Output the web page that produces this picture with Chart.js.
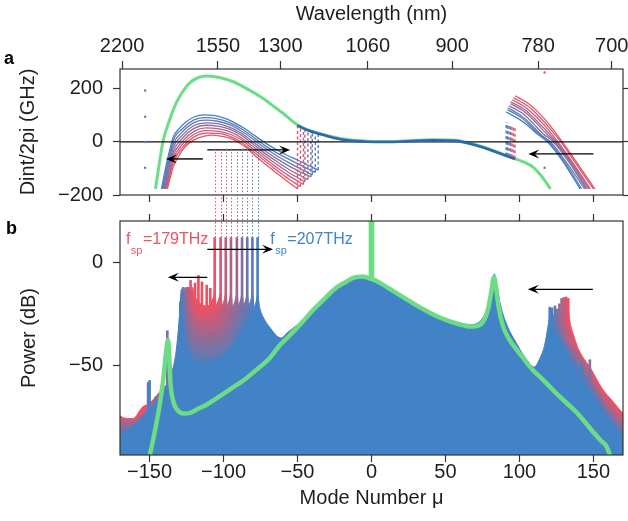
<!DOCTYPE html>
<html lang="en">
<head>
<meta charset="UTF-8">
<title>Dispersion and comb spectra</title>
<script src="https://cdn.jsdelivr.net/npm/chart.js@4.4.1/dist/chart.umd.min.js"></script>
<style>
  body { margin: 0; background: #fff; }
  .wrap { position: relative; width: 628px; height: 521px; }
  .wrap canvas { position: absolute; left: 0; top: 0; }
</style>
</head>
<body>
<div class="wrap">
  <canvas id="dintChart" width="628" height="230"></canvas>
  <canvas id="powerChart" width="628" height="521"></canvas>
</div>
<script>
// ---------- axes ----------
const MU_MIN = -170, MU_MAX = 170;
const wavelengthTicks = [2200, 1550, 1300, 1060, 900, 780, 700];   // nm, top axis
const PUMP_THZ = 285.0;     // optical frequency of mode 0
const FSR_THZ = 0.8823;     // mode spacing

// ---------- panel a : Dint/2pi (GHz) vs mode number ----------
const dintGreen = [[-146,-177],[-141,0],[-136,90],[-132,147],[-127,195],[-123,222],[-117,243],[-111,249],[-102,242],[-93,226],[-84,200],[-75,170],[-67,138],[-60,109],[-50,64],[-43,45],[-35,32],[-26,19],[-15,8],[-3,3],[10,2],[19,3],[30,6],[42,8],[57,6],[66,-4],[75,-18],[85,-38],[96,-61],[103,-76],[109,-94],[115,-130],[121,-177]];
const dintMid = [[-50,62],[-43,44],[-35,30],[-26,16],[-15,5],[-3,1],[10,0],[19,1],[30,4],[42,6],[57,4],[66,-6],[75,-20],[85,-40],[91,-52],[97,-64]];
const dintLeft = [
  [[-138,-177],[-136,-133],[-134,-93],[-130,-50],[-126,-18],[-120,8],[-113,22],[-107,26],[-100,20],[-93,8],[-85,-20],[-78,-55],[-70,-92],[-64,-118],[-57,-148],[-50,-177]],
  [[-138.5,-177],[-134,-79],[-128,-22],[-120,19],[-112,33],[-104,32],[-96,22],[-88,-1],[-80,-36],[-72,-72],[-64,-107],[-56,-140],[-48,-168]],
  [[-139,-177],[-134,-65],[-128,-10],[-120,29],[-112,43],[-104,41],[-96,30],[-88,8],[-80,-27],[-72,-62],[-64,-96],[-56,-127],[-46,-160]],
  [[-139.5,-177],[-134,-51],[-128,1],[-120,40],[-112,53],[-104,50],[-96,39],[-88,16],[-80,-18],[-72,-53],[-64,-85],[-56,-115],[-45,-150]],
  [[-140,-177],[-134,-37],[-128,13],[-120,51],[-112,63],[-104,60],[-96,48],[-88,25],[-80,-9],[-72,-43],[-64,-74],[-56,-103],[-43,-142]],
  [[-140.5,-177],[-134,-23],[-128,25],[-120,62],[-112,72],[-104,69],[-96,56],[-88,33],[-80,0],[-72,-33],[-64,-63],[-56,-90],[-41,-132]],
  [[-141,-177],[-134,-9],[-128,37],[-120,73],[-112,82],[-104,78],[-96,65],[-88,41],[-80,10],[-72,-23],[-64,-52],[-56,-78],[-40,-124]],
  [[-141.5,-177],[-134,5],[-128,49],[-120,83],[-112,92],[-104,87],[-96,73],[-88,50],[-80,19],[-72,-14],[-64,-41],[-56,-65],[-38,-115]],
  [[-142,-177],[-140,-120],[-138,-68],[-136,-22],[-134,19],[-130,50],[-126,72],[-120,94],[-113,102],[-107,100],[-100,91],[-93,74],[-85,48],[-78,20],[-70,-10],[-64,-30],[-57,-50],[-50,-68],[-43,-87],[-36,-106]]
];
const dintRight = [
  [[97,174],[106,145],[114,105],[121,60],[129,0],[139,-80],[151,-177]],
  [[96,166],[105,138],[113,98],[120,55],[128,0],[138,-80],[150,-177]],
  [[95,159],[104,131],[112,91],[119,49],[126,0],[136,-78],[148,-177]],
  [[94,151],[103,124],[111,84],[118,43],[125,0],[135,-75],[147,-177]],
  [[94,144],[103,116],[110,80],[117,38],[124,0],[134,-73],[146,-177]],
  [[93,136],[102,108],[109,72],[116,31],[123,0],[133,-72],[145,-177]],
  [[92,129],[101,100],[108,66],[115,25],[121,0],[131,-71],[144,-177]],
  [[92,121],[101,93],[107,63],[113,30],[120,0],[130,-71],[142,-177]],
  [[91,113],[100,85],[106,60],[111,35],[119,0],[129,-70],[141,-177]]
];
// jumps between branches: [mode, from GHz, to GHz]
const dashLeft = [[-50,-177,64],[-48,-168,58],[-46,-160,53],[-45,-150,50],[-43,-142,46],[-41,-132,42],[-40,-124,40],[-38,-115,37],[-36,-106,34]];
const dashRight = [[97,-63,57],[96,-61,60],[95,-59,62],[94,-57,64],[94,-57,66],[93,-55,68],[92,-53,70],[92,-53,72],[91,-51,75]];
const strayDots = [[-153,194,4],[-153,95,8],[-153,0,8],[-153,-97,8],[117,298,0],[117,262,0],[117,-97,8]];

// ---------- panel b : power (dB) vs mode number ----------
const powerBlue = [[-170,-84],[-165,-82],[-160,-79],[-155,-75],[-150,-72],[-145,-67],[-140,-62],[-135,-58],[-133,-52],[-131.5,-44],[-130.3,-32],[-129.2,-22],[-128,-28],[-126,-41],[-112,-49],[-100,-45],[-90,-36],[-84,-29],[-80,-23],[-78,-19],[-77,-16],[-75.5,-22],[-72,-28],[-68,-32],[-64,-35.5],[-61,-36.5],[-57,-34],[-50,-30],[-40,-23],[-30,-16],[-20,-10.5],[-12,-8],[-6,-7.5],[0,-8.5],[6,-10.5],[15,-14.5],[28,-20],[40,-24.5],[51,-28],[60,-29.5],[67,-30],[75,-27],[79,-20],[82,-8],[83,-5.5],[84.5,-10],[87,-20],[92,-31],[98,-39],[104,-46],[110,-50.5],[114,-46],[117,-40],[119.5,-30],[120.5,-26],[122,-30],[125,-33],[130,-40],[135,-47],[140,-55],[148,-63],[156,-71],[163,-78],[170,-84]];
const powerLeft = [
  [[-170,-74],[-165,-76],[-160,-75],[-155,-70],[-150,-68],[-140,-60],[-131,-55],[-125,-45],[-122.5,-28],[-121,-12],[-119.5,-16],[-117,-19],[-112,-21],[-109,-20],[-107,-17],[-106,-15],[-104.5,-26],[-102,-42],[-96,-62],[-86,-85]],
  [[-170,-75],[-160,-75.5],[-150,-68.5],[-140,-60.5],[-132.5,-55],[-126.5,-45],[-124,-28],[-122.5,-12],[-121,-18],[-118.5,-22],[-112,-24.5],[-108,-23.5],[-105,-21],[-103,-17],[-102,-15],[-100.5,-26],[-98,-42],[-92,-62],[-82,-85]],
  [[-170,-76.5],[-160,-76],[-150,-69],[-140,-61],[-134,-55],[-128,-45],[-125.5,-28],[-124,-12],[-122.5,-19],[-120,-25],[-112,-28],[-105,-26],[-101.5,-22],[-99.5,-18],[-98.5,-15],[-97,-26],[-94.5,-42],[-88.5,-62],[-78.5,-85]],
  [[-170,-77.5],[-160,-76.5],[-150,-69.5],[-140,-61],[-135,-55],[-129,-45],[-126.5,-28],[-125,-12],[-123.5,-20],[-121,-27],[-112,-31.5],[-103,-29],[-98,-22],[-96,-18],[-95,-15],[-93.5,-26],[-91,-42],[-85,-62],[-75,-85]],
  [[-170,-78.5],[-160,-77],[-150,-70],[-140,-61.5],[-136,-56],[-130,-45],[-127.5,-28],[-126,-12],[-124.5,-21],[-122,-30],[-112,-35],[-101,-32],[-94,-22],[-92,-18],[-91,-15],[-89.5,-26],[-87,-42],[-81,-62],[-71,-85]],
  [[-170,-80],[-160,-77.5],[-150,-70.5],[-140,-61.5],[-137,-57],[-131,-45],[-128.5,-28],[-127,-12],[-125.5,-22],[-123,-33],[-112,-38.5],[-99,-35],[-90.5,-22],[-88.5,-18],[-87.5,-15],[-86,-26],[-83.5,-42],[-77.5,-62],[-67.5,-85]],
  [[-170,-81],[-160,-78],[-150,-71],[-140,-62],[-137.8,-58],[-131.8,-45],[-129.3,-28],[-127.8,-12],[-126.3,-23],[-124,-36],[-112,-42],[-97,-38],[-87,-22],[-85,-18],[-84,-15],[-82.5,-26],[-80,-42],[-74,-62],[-64,-85]],
  [[-170,-82.5],[-160,-78.5],[-150,-71.5],[-140,-62],[-138.5,-59],[-132.5,-45],[-130,-28],[-128.5,-13],[-127,-25],[-125,-39],[-112,-45.5],[-96,-41],[-83.5,-22],[-81.5,-18],[-80.5,-15],[-79,-26],[-76.5,-42],[-70.5,-62],[-60.5,-85]]
];
const powerRight = [
  [[108,-62],[122,-52],[126,-40],[128.5,-32],[132,-27],[133,-24],[134.5,-30],[137,-36],[140,-42],[148,-51],[156,-61],[163,-67],[170,-73]],
  [[108,-62],[121,-52],[125,-40],[127.5,-32],[130.5,-27],[131.5,-24],[133,-30],[135.5,-36],[140,-43],[148,-52],[156,-62.5],[163,-68.5],[170,-74.5]],
  [[108,-62],[120,-52],[124,-40],[126.5,-32],[129,-27],[130,-24],[131.5,-30],[134,-36],[140,-44],[148,-53.5],[156,-64],[163,-70],[170,-76]],
  [[108,-62],[119,-52],[123,-40],[125.5,-32],[127.5,-27],[128.5,-24],[130,-30],[132.5,-36],[140,-45],[148,-55],[156,-65],[163,-71.5],[170,-77.5]],
  [[108,-62],[118,-52],[122,-40],[124.5,-32],[126,-27],[127,-24],[128.5,-30],[131,-36],[140,-46.5],[148,-56.5],[156,-66.5],[163,-73],[170,-79]],
  [[108,-62],[117,-52],[121,-40],[123.5,-32],[124.5,-27],[125.5,-24],[127,-30],[129.5,-36],[140,-48],[148,-58],[156,-68],[163,-74.5],[170,-80.5]],
  [[108,-62],[115.5,-52],[119.5,-40],[122,-32],[123,-27],[124,-24],[125.5,-30],[128,-36],[140,-50],[148,-59.5],[156,-69],[163,-76],[170,-82]],
  [[108,-62],[114.5,-52],[118.5,-40],[120.5,-32],[121.2,-27],[122,-24],[123.5,-30],[126,-36],[140,-52],[148,-61],[156,-70],[163,-77],[170,-83]]
];
// single comb lines: strongest line of each spectrum, lines of the right cluster, others [mode, dB, spectrum]
const tallSpikeMu = [-106, -102, -98.5, -95, -91, -87.5, -84, -80.5, -77];
const tallSpikeTop = [12, 12, 12, 12, 12, 12, 12, 12, 12];
const rightSpikeMu = [133, 131.5, 130, 128.5, 127, 125.5, 124, 122, 120.5];
const rightSpikeTop = [-17.4, -16.7, -17, -17.4, -20, -22.5, -21, -22, -21.6];
const sideSpikes = [[-119.3,-10,0],[-117,-6.3,0],[-114.6,-9.4,0],[-111.4,-11,0],[-109,-12.5,0],[-122.3,-8.7,1],[-124,-12,2],
                    [-125,-12.5,3],[-126,-14,4],[-126.8,-16,5],[-127.8,-14,6],[-128.5,-17,7],[-129.2,-19,8],
                    [-150,-57,8],[-151,-58,6],[-146,-65,7],[-138,-33,5],[142,-48.6,8],[147.6,-47,5]];
const powerGreen = [[-151,-97],[-146,-80],[-143,-68],[-141,-58],[-139.6,-48.6],[-138.3,-40],[-137.5,-37.5],[-136.7,-45],[-136,-57],[-134,-67],[-131,-71.5],[-127,-73],[-122,-72.5],[-118,-71],[-111,-68.5],[-104.5,-65.5],[-95,-61],[-86.6,-57],[-78,-52],[-68.6,-46],[-62,-40],[-55,-35],[-47,-29],[-39.5,-23],[-31,-17],[-23.5,-12],[-17,-9.3],[-12.5,-7.5],[-6,-6.8],[0,-8],[6,-10],[15,-14],[28,-19.7],[40,-24.5],[51,-28],[60,-30],[66.5,-31],[72,-30.5],[76,-28],[79,-22],[81,-14],[82.8,-7],[84.5,-14],[86,-22],[89,-31],[93,-37],[98,-42],[104,-47.5],[109,-52],[115,-56],[120.5,-60],[126,-64],[132,-68],[138,-72],[143,-76],[150,-82],[155,-86],[159,-89],[163,-97]];
const pumpLine = { mu: 0, from: -8.5, to: 30 };
const FLOOR_DB = -100;

// ---------- helpers ----------
const FONT = "'Liberation Sans', Arial, sans-serif";
const GREEN = '#6ddc86';
const AXIS = '#333';
Chart.defaults.font.family = FONT;
Chart.defaults.color = '#1e1e1e';

const toXY = arr => arr.map(([x, y]) => ({ x, y }));
const combColor = k => {
  const t = k / 8;
  return `rgb(${Math.round(236 - 170 * t)},${Math.round(82 + 48 * t)},${Math.round(98 + 100 * t)})`;
};
const muFromWavelength = nm => (299792.458 / nm - PUMP_THZ) / FSR_THZ;
const minus = v => String(v).replace('-', '\u2212');
const forceW = w => s => { s.width = w; };
const forceH = h => s => { s.height = h; s.paddingLeft = 0; s.paddingRight = 0; };
const tickGrid = len => ({ drawOnChartArea: false, tickLength: len, color: AXIS, tickWidth: 1.2, offset: false });

function drawArrow(ctx, x1, y1, x2, y2) {
  const head = 11, half = 4.5;
  const a = Math.atan2(y2 - y1, x2 - x1), cs = Math.cos(a), sn = Math.sin(a);
  ctx.beginPath();
  ctx.moveTo(x1, y1);
  ctx.lineTo(x2 - cs * head * 0.6, y2 - sn * head * 0.6);
  ctx.stroke();
  ctx.beginPath();
  ctx.moveTo(x2, y2);
  ctx.lineTo(x2 - head * cs + half * sn, y2 - head * sn - half * cs);
  ctx.lineTo(x2 - head * 0.6 * cs, y2 - head * 0.6 * sn);
  ctx.lineTo(x2 - head * cs - half * sn, y2 - head * sn + half * cs);
  ctx.closePath();
  ctx.fill();
}

function frame(ctx, a) {
  ctx.strokeStyle = AXIS;
  ctx.lineWidth = 1.2;
  ctx.strokeRect(a.left, a.top, a.right - a.left, a.bottom - a.top);
}

// ---------- panel a ----------
const dsA = [];
dsA.push({ data: toXY(dintGreen), borderColor: GREEN, borderWidth: 3, cubicInterpolationMode: 'monotone' });
dintLeft.forEach((c, k) => dsA.push({ data: toXY(c), borderColor: combColor(k), borderWidth: 1.3, cubicInterpolationMode: 'monotone' }));
dintRight.forEach((c, k) => dsA.push({ data: toXY(c), borderColor: combColor(k), borderWidth: 1.3, cubicInterpolationMode: 'monotone' }));
dashLeft.concat(dashRight).forEach(([m, a, b], i) => dsA.push({
  data: toXY([[m, a], [m, b]]), borderColor: combColor(i % 9), borderWidth: 1.4, borderDash: [3, 2.5]
}));
dsA.push({ data: toXY([[MU_MIN, 0], [MU_MAX, 0]]), borderColor: '#111', borderWidth: 1.3 });
dsA.push({ data: toXY(dintMid), borderColor: '#2f67ad', borderWidth: 2.6, cubicInterpolationMode: 'monotone' });
dsA.push({ data: toXY(strayDots.map(d => [d[0], d[1]])), showLine: false, clip: false,
  pointRadius: 1.2, pointBorderWidth: 0, pointBackgroundColor: strayDots.map(d => combColor(d[2])) });
dsA.forEach((d, i) => { d.order = dsA.length - i; });

const arrowsA = [[-114, -64, -139, -64], [-111, -30, -55, -30], [150, -45, 106, -45]];
const panelA = {
  id: 'panelA',
  afterDatasetsDraw(chart) {
    const { ctx, chartArea, scales: { x, y } } = chart;
    ctx.save();
    frame(ctx, chartArea);
    ctx.fillStyle = '#000';
    ctx.strokeStyle = '#000';
    ctx.lineWidth = 1.4;
    arrowsA.forEach(([m1, v1, m2, v2]) => drawArrow(ctx, x.getPixelForValue(m1), y.getPixelForValue(v1), x.getPixelForValue(m2), y.getPixelForValue(v2)));
    ctx.font = `bold 18px ${FONT}`;
    ctx.fillText('a', 4, 64);
    ctx.restore();
  }
};

const chartA = new Chart(document.getElementById('dintChart'), {
  type: 'line',
  data: { datasets: dsA },
  options: {
    responsive: false, animation: false, events: [],
    layout: { padding: 0 },
    elements: { point: { radius: 0 } },
    plugins: { legend: { display: false }, tooltip: { enabled: false } },
    scales: {
      x: { type: 'linear', position: 'bottom', min: MU_MIN, max: MU_MAX, offset: false,
        ticks: { display: false, stepSize: 50, includeBounds: false },
        grid: tickGrid(7), border: { display: false }, afterFit: forceH(35) },
      x2: { type: 'linear', axis: 'x', position: 'top', min: MU_MIN, max: MU_MAX, offset: false,
        afterBuildTicks: s => { s.ticks = wavelengthTicks.map(nm => ({ value: muFromWavelength(nm) })); },
        ticks: { callback: (v, i) => String(wavelengthTicks[i]), autoSkip: false, maxRotation: 0,
          font: { size: 20, lineHeight: 1 }, padding: 5 },
        grid: tickGrid(8), border: { display: false },
        title: { display: true, text: 'Wavelength (nm)', font: { size: 20 }, padding: { top: 2, bottom: 0 } },
        afterFit: forceH(69) },
      y: { type: 'linear', position: 'left', min: -200, max: 275,
        ticks: { stepSize: 200, includeBounds: false, callback: minus, font: { size: 20 }, padding: 10 },
        grid: tickGrid(7), border: { display: false },
        title: { display: true, text: 'Dint/2pi (GHz)', font: { size: 20 }, padding: { top: 16, bottom: 0 } },
        afterFit: forceW(120) },
      y2: { type: 'linear', axis: 'y', position: 'right', min: -200, max: 275,
        ticks: { display: false, stepSize: 200, includeBounds: false },
        grid: tickGrid(5), border: { display: false }, afterFit: forceW(5) }
    }
  },
  plugins: [panelA]
});

// ---------- panel b ----------
const fillSet = (pts, col) => ({ data: toXY(pts), borderColor: col, backgroundColor: col, borderWidth: 1,
  fill: 'start', cubicInterpolationMode: 'monotone' });
const spikeSet = (list, col) => ({ type: 'bar', data: list.map(([m, top]) => ({ x: m, y: [FLOOR_DB, top] })),
  backgroundColor: col, barThickness: 2, grouped: false });
const spikesOf = k => [[tallSpikeMu[k], tallSpikeTop[k]], [rightSpikeMu[k], rightSpikeTop[k]]]
  .concat(sideSpikes.filter(s => s[2] === k).map(s => [s[0], s[1]]));

const dsB = [];
for (let k = 0; k < 8; k++) {
  dsB.push(fillSet(powerLeft[k], combColor(k)));
  dsB.push(fillSet(powerRight[k], combColor(k)));
  dsB.push(spikeSet(spikesOf(k), combColor(k)));
}
dsB.push(fillSet(powerBlue, combColor(8)));
dsB.push(spikeSet(spikesOf(8), combColor(8)));
dsB.push({ data: toXY(powerGreen), borderColor: GREEN, borderWidth: 4.5, cubicInterpolationMode: 'monotone' });
dsB.push({ type: 'bar', data: [{ x: pumpLine.mu, y: [pumpLine.from, pumpLine.to] }], backgroundColor: GREEN, barThickness: 5, grouped: false });
dsB.forEach((d, i) => { d.order = dsB.length - i; });

const arrowsB = [[-111, 6.3, -66.6, 6.3], [-111, -7.2, -137.6, -7.2], [149.6, -13, 105.7, -13]];
const spLabels = [{ mu: -166, db: 9, rest: '=179THz', k: 0 }, { mu: -68.4, db: 9, rest: '=207THz', k: 8 }];

const panelB = {
  id: 'panelB',
  afterDatasetsDraw(chart) {
    const { ctx, chartArea, scales: { x, y } } = chart;
    ctx.save();
    frame(ctx, chartArea);
    // comb lines carried up into panel a
    const yTop = chartA.scales.y.getPixelForValue(-25);
    ctx.lineWidth = 1;
    ctx.setLineDash([1.5, 2]);
    tallSpikeMu.forEach((m, k) => {
      const px = Math.round(x.getPixelForValue(m)) + 0.5;
      ctx.strokeStyle = combColor(k);
      ctx.beginPath();
      ctx.moveTo(px, yTop);
      ctx.lineTo(px, y.getPixelForValue(tallSpikeTop[k]));
      ctx.stroke();
    });
    ctx.setLineDash([]);
    ctx.fillStyle = '#000';
    ctx.strokeStyle = '#000';
    ctx.lineWidth = 1.4;
    arrowsB.forEach(([m1, v1, m2, v2]) => drawArrow(ctx, x.getPixelForValue(m1), y.getPixelForValue(v1), x.getPixelForValue(m2), y.getPixelForValue(v2)));
    spLabels.forEach(l => {
      let px = x.getPixelForValue(l.mu);
      const py = y.getPixelForValue(l.db);
      ctx.fillStyle = combColor(l.k);
      ctx.font = `16px ${FONT}`;
      ctx.fillText('f', px, py);
      px += ctx.measureText('f').width + 0.5;
      ctx.font = `11px ${FONT}`;
      ctx.fillText('sp', px, py + 10);
      px += ctx.measureText('sp').width + 0.5;
      ctx.font = `16px ${FONT}`;
      ctx.fillText(l.rest, px, py);
    });
    ctx.fillStyle = '#000';
    ctx.font = `bold 18px ${FONT}`;
    ctx.fillText('b', 6, 234);
    ctx.restore();
  }
};

new Chart(document.getElementById('powerChart'), {
  type: 'line',
  data: { datasets: dsB },
  options: {
    responsive: false, animation: false, events: [],
    layout: { padding: { left: 0, right: 5, top: 0, bottom: 0 } },
    elements: { point: { radius: 0 } },
    plugins: { legend: { display: false }, tooltip: { enabled: false } },
    scales: {
      x: { type: 'linear', position: 'bottom', min: MU_MIN, max: MU_MAX, offset: false,
        ticks: { stepSize: 50, includeBounds: false, callback: minus, autoSkip: false, maxRotation: 0,
          font: { size: 20, lineHeight: 1 }, padding: 0 },
        grid: tickGrid(7), border: { display: false },
        title: { display: true, text: 'Mode Number \u03bc', font: { size: 20 }, padding: { top: 0, bottom: 11 } },
        afterFit: forceH(66) },
      x2: { type: 'linear', axis: 'x', position: 'top', min: MU_MIN, max: MU_MAX, offset: false,
        ticks: { display: false, stepSize: 50, includeBounds: false },
        grid: tickGrid(7), border: { display: false }, afterFit: forceH(221) },
      y: { type: 'linear', position: 'left', min: -93, max: 20, beginAtZero: false,
        ticks: { stepSize: 50, includeBounds: false, callback: minus, font: { size: 20 }, padding: 10 },
        grid: tickGrid(7), border: { display: false },
        title: { display: true, text: 'Power (dB)', font: { size: 20 }, padding: { top: 17, bottom: 0 } },
        afterFit: forceW(120) }
    }
  },
  plugins: [panelB]
});
</script>
</body>
</html>
